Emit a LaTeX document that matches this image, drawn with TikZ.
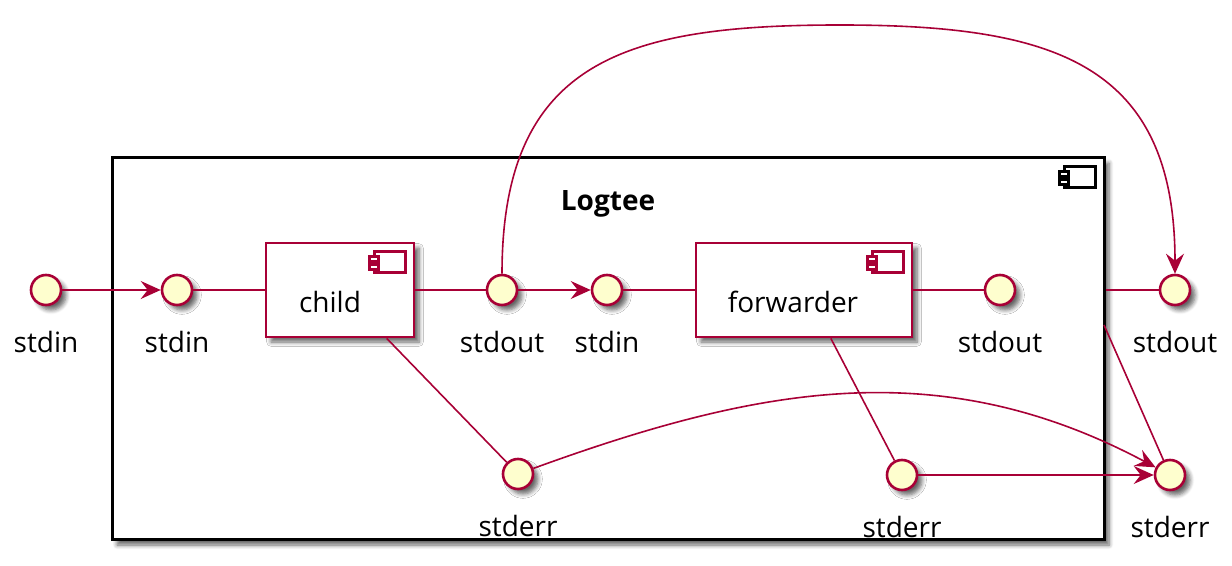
\documentclass[tikz,border=0pt]{standalone}
\usepackage{fontspec}
\setmainfont{Open Sans}
\usetikzlibrary{arrows.meta,shadows.blur}
\definecolor{umlred}{HTML}{A80036}
\definecolor{umlfill}{HTML}{FEFECE}
\newcommand{\compicon}[2]{%
  \draw[#2, line width=1.3pt, fill=white, shift={(#1)}] (-41,10) rectangle (-10,31);
  \draw[#2, line width=1.3pt, fill=white, shift={(#1)}] (-46,15) rectangle (-37,20);
  \draw[#2, line width=1.3pt, fill=white, shift={(#1)}] (-46,23) rectangle (-37,28);
}
\begin{document}
\begin{tikzpicture}[
		x=0.5pt, y=-0.5pt,
		font=\fontsize{14pt}{17pt}\selectfont,
		sh/.style={blur shadow={shadow xshift=2.5pt, shadow yshift=-2.5pt, shadow opacity=60, shadow blur steps=6}},
		iface/.style={circle, draw=umlred, fill=umlfill, line width=1.3pt, minimum size=15pt, inner sep=0pt, sh},
		comp/.style={rectangle, draw=umlred, fill=white, line width=1.4pt, inner sep=0pt, sh},
		every label/.append style={rectangle, label distance=10.5pt, inner sep=2pt},
		wire/.style={umlred, line width=0.8pt},
		flow/.style={wire, -{Stealth[length=10pt, width=9pt, inset=3.5pt]}}
	]
  \useasboundingbox (0,0) rectangle (1232,566);
  \node (logtee) [rectangle, draw, fill=white, line width=1.5pt, minimum width=496pt, minimum height=191pt, sh] at (608,349) {};
  \node (logtee_t) [font=\fontsize{14pt}{17pt}\selectfont\bfseries] at (608,204) {Logtee};
  \compicon{logtee.north east}{black}
  \node (child) [comp, minimum width=74pt, minimum height=47pt, label={[xshift=-5pt, yshift=-6pt]center:child}] at (340,290) {};
  \compicon{child.north east}{umlred}
  \node (fwd) [comp, minimum width=108pt, minimum height=47pt, label={[xshift=-5.5pt, yshift=-6pt]center:forwarder}] at (804,290) {};
  \compicon{fwd.north east}{umlred}
  \node (si_o) [iface, label=below:stdin] at (46,290) {};
  \node (si_c) [iface, label=below:stdin] at (177,290) {};
  \node (so_c) [iface, label=below:stdout] at (502,290) {};
  \node (si_f) [iface, label=below:stdin] at (607,290) {};
  \node (so_f) [iface, label=below:stdout] at (1000,290) {};
  \node (so_o) [iface, label=below:stdout] at (1175,290) {};
  \node (se_c) [iface, label=below:stderr] at (518,474) {};
  \node (se_f) [iface, label=below:stderr] at (902,475) {};
  \node (se_o) [iface, label=below:stderr] at (1170,475) {};
  \coordinate (arc_top) at (840,25);
  \coordinate (logtee_se) at (1104,325);
  \draw[flow] (si_o) -- (si_c);
  \draw[wire] (si_c) -- (child);
  \draw[wire] (child) -- (so_c);
  \draw[flow] (so_c) -- (si_f);
  \draw[wire] (si_f) -- (fwd);
  \draw[wire] (fwd) -- (so_f);
  \draw[wire] (child.-46) -- (se_c);
  \draw[wire] (fwd.-61) -- (se_f);
  \draw[flow] (se_f) -- (se_o);
  \draw[flow] (se_c) to[out=20, in=152] (se_o);
  \draw[flow] (so_c.north) to[out=90, in=180, looseness=1.3] (arc_top) to[out=0, in=90, looseness=1.3] (so_o.north);
  \draw[wire] (so_o -| logtee.east) -- (so_o);
  \draw[wire] (logtee_se) -- (se_o);
\end{tikzpicture}
\end{document}
